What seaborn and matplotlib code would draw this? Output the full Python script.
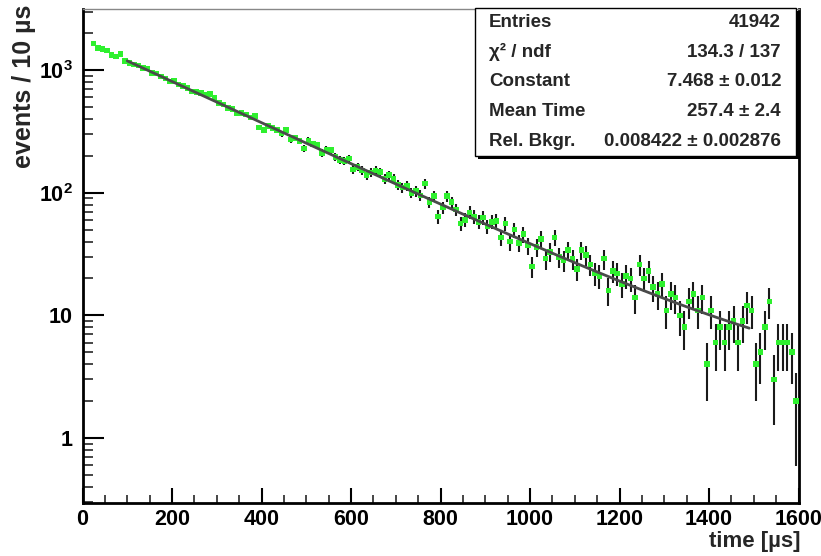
import numpy as np
import pandas as pd
import matplotlib
matplotlib.use("Agg")
import matplotlib.pyplot as plt
from matplotlib.patches import Rectangle
from matplotlib.ticker import FixedLocator, FixedFormatter, MultipleLocator, NullFormatter, LogLocator
import seaborn as sns

# ---------------- data ----------------
bin_width_us = 10
first_bin_centre_us = 25
counts = [
    1650, 1510, 1490, 1440, 1330, 1290, 1350, 1190, 1140, 1115,   # 25-115
    1090, 1045, 1030, 945, 940, 890, 855, 810, 815, 765,          # 125-215
    740, 715, 670, 662, 650, 630, 640, 600, 538, 525,             # 225-315
    490, 480, 442, 445, 436, 410, 421, 341, 324, 350,             # 325-415
    338, 326, 304, 324, 272, 280, 265, 230, 267, 250,             # 425-515
    245, 211, 225, 223, 196, 184, 182, 190, 155, 162,             # 525-615
    152, 139, 146, 152, 148, 130, 139, 130, 116, 110,             # 625-715
    113, 100, 103, 95, 119, 84, 94, 64, 76, 94,                   # 725-815
    84, 73, 56, 60, 69, 64, 58, 63, 53, 58,                       # 825-915
    59, 43, 56, 40, 50, 39, 46, 37, 25, 36,                       # 925-1015
    42, 29, 33, 43, 30, 28, 34, 29, 24, 34,                       # 1025-1115
    31, 26, 22, 21, 29, 16, 23, 22, 18, 21,                       # 1125-1215
    20, 14, 26, 20, 23, 17, 15, 18, 11, 15,                       # 1225-1315
    14, 10, 8, 13, 15, 11, 14, 4, 11, 6,                          # 1325-1415
    8, 6, 8, 9, 6, 9, 12, 11, 4, 5,                               # 1425-1515
    8, 13, 3, 6, 6, 6, 5, 2,                                      # 1525-1595
]

# fit result shown in the stats box (exponential + flat background)
fit_constant = 7.468
fit_mean_time = 257.4
fit_background = 2.5
fit_range_us = [100, 1490]

stats_labels = ["Entries", "\u03c7\u00b2 / ndf", "Constant", "Mean Time", "Rel. Bkgr."]
stats_values = ["41942", "134.3 / 137", "7.468 \u00b1 0.012", "257.4 \u00b1 2.4",
                "0.008422 \u00b1 0.002876"]

x_tick_values = [0, 200, 400, 600, 800, 1000, 1200, 1400, 1600]
x_tick_labels = ["0", "200", "400", "600", "800", "1000", "1200", "1400", "1600"]
y_tick_values = [1, 10, 100, 1000]
y_tick_labels = ["1", "10", r"$\mathbf{10^{2}}$", r"$\mathbf{10^{3}}$"]
x_limits = [0, 1600]
y_limits = [0.295, 3150]

x_title = "time [\u00b5s]"
y_title = "events / 10 \u00b5s"

# ---------------- build table ----------------
counts_arr = np.array(counts, dtype=float)
time_us = first_bin_centre_us + bin_width_us * np.arange(len(counts_arr))
err = np.sqrt(counts_arr)
df = pd.DataFrame({"time": time_us, "events": counts_arr,
                   "lo": counts_arr - err, "hi": counts_arr + err})

t_fit = np.linspace(fit_range_us[0], fit_range_us[1], 400)
fit_df = pd.DataFrame({"time": t_fit,
                       "events": np.exp(fit_constant - t_fit / fit_mean_time) + fit_background})

# ---------------- style ----------------
sns.set_style("white")
plt.rcParams['font.family'] = ['Liberation Sans', 'DejaVu Sans']
plt.rcParams['font.weight'] = 'bold'
plt.rcParams['mathtext.fontset'] = 'custom'
plt.rcParams['mathtext.bf'] = 'Liberation Sans:bold'
plt.rcParams['mathtext.rm'] = 'Liberation Sans:bold'

W, H = 821, 556
fig = plt.figure(figsize=(W / 100, H / 100), dpi=100)
fig.patch.set_facecolor("white")
ax_l, ax_r, ax_t, ax_b = 82.5, 798.5, 9, 503
ax = fig.add_axes([ax_l / W, 1 - ax_b / H, (ax_r - ax_l) / W, (ax_b - ax_t) / H])

# error bars
ax.vlines(df["time"], df["lo"], df["hi"], color="#1a1a1a", lw=1.5, zorder=2)
# markers
sns.scatterplot(data=df, x="time", y="events", marker="s", s=16, color="#2ef02e",
                edgecolor="none", linewidth=0, ax=ax, zorder=3, legend=False)
# fit curve
sns.lineplot(data=fit_df, x="time", y="events", color="#4a4a4a", lw=2.0, ax=ax,
             zorder=4, legend=False)

ax.set_yscale("log")
ax.set_xlim(*x_limits)
ax.set_ylim(*y_limits)
ax.set_xlabel("")
ax.set_ylabel("")

ax.xaxis.set_major_locator(FixedLocator(x_tick_values))
ax.xaxis.set_major_formatter(FixedFormatter(x_tick_labels))
ax.xaxis.set_minor_locator(MultipleLocator(50))
ax.yaxis.set_major_locator(FixedLocator(y_tick_values))
ax.yaxis.set_major_formatter(FixedFormatter(y_tick_labels))
ax.yaxis.set_minor_locator(LogLocator(base=10, subs=np.arange(2, 10)))
ax.yaxis.set_minor_formatter(NullFormatter())

ax.tick_params(axis="x", which="major", direction="in", length=11, width=1.5,
               bottom=True, top=False, labelsize=15.5, pad=4, colors="black")
ax.tick_params(axis="x", which="minor", direction="in", length=5.5, width=1.2,
               bottom=True, top=False)
ax.tick_params(axis="y", which="major", direction="in", length=15, width=1.5,
               left=True, right=False, labelsize=15.5, pad=7, colors="black")
ax.tick_params(axis="y", which="minor", direction="in", length=7.5, width=1.2,
               left=True, right=False)
for lab in ax.get_xticklabels() + ax.get_yticklabels():
    lab.set_fontweight("bold")

for side in ["left", "bottom", "right"]:
    ax.spines[side].set_color("black")
    ax.spines[side].set_linewidth(2)
ax.spines["top"].set_color("#888888")
ax.spines["top"].set_linewidth(1)

# axis titles
fig.text(24 / W, 1 - 5 / H, y_title, rotation=90, ha="center", va="top",
         fontsize=18, fontweight="bold")
fig.text(800 / W, 1 - 542 / H, x_title, ha="right", va="center",
         fontsize=16, fontweight="bold")

# stats box
bx0, bx1, by0, by1 = 475, 796, 8, 156
shadow = Rectangle((bx0 / W + 2.5 / W, 1 - by1 / H - 2.5 / H), (bx1 - bx0) / W, (by1 - by0) / H,
                   transform=fig.transFigure, facecolor="black", edgecolor="none", zorder=9)
box = Rectangle((bx0 / W, 1 - by1 / H), (bx1 - bx0) / W, (by1 - by0) / H,
                transform=fig.transFigure, facecolor="white", edgecolor="black",
                lw=1.0, zorder=10)
fig.add_artist(shadow)
fig.add_artist(box)
row_h = (by1 - by0) / len(stats_labels)
for i, (lab, val) in enumerate(zip(stats_labels, stats_values)):
    yc = by0 + row_h * (i + 0.5)
    fig.text(489 / W, 1 - yc / H, lab, ha="left", va="center", fontsize=13.5,
             fontweight="bold", zorder=11)
    fig.text(781 / W, 1 - yc / H, val, ha="right", va="center", fontsize=13.5,
             fontweight="bold", zorder=11)

fig.savefig("out.png", dpi=100)
